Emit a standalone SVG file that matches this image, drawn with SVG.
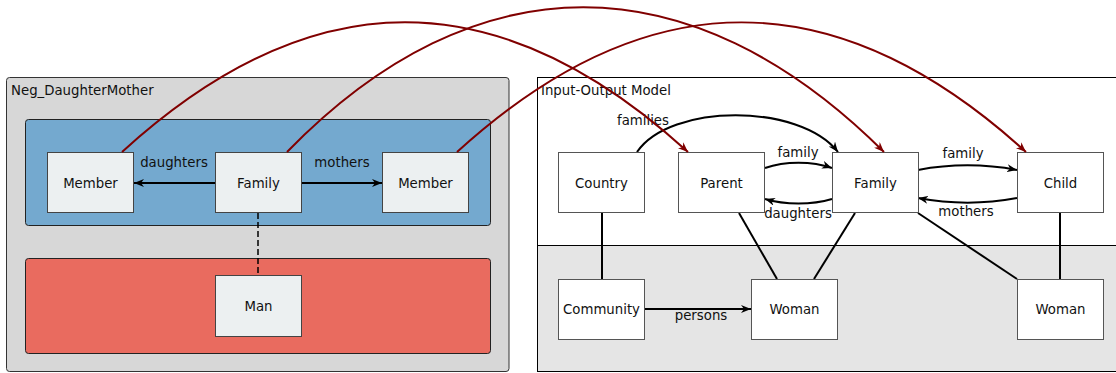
<svg xmlns="http://www.w3.org/2000/svg" width="1116" height="373" viewBox="0 0 1116 373">
<defs>
<style>
text{font-family:"DejaVu Sans","Liberation Sans",sans-serif;font-size:13.3px;fill:#111;}
.c{text-anchor:middle;}
.lnode{fill:#ecf0f1;stroke:#444;stroke-width:1;}
.rnode{fill:#fff;stroke:#555;stroke-width:1;}
.e{fill:none;stroke:#000;stroke-width:2;}
.r{fill:none;stroke:#800000;stroke-width:2;}
</style>
<marker id="ab" viewBox="0 0 10 8" refX="10" refY="4" markerWidth="10" markerHeight="8" markerUnits="userSpaceOnUse" orient="auto"><path d="M0,0 L10,4 L0,8 L3,4 z" fill="#000"/></marker>
<marker id="ar" viewBox="0 0 10 8" refX="10" refY="4" markerWidth="10" markerHeight="8" markerUnits="userSpaceOnUse" orient="auto"><path d="M0,0 L10,4 L0,8 L3,4 z" fill="#800000"/></marker>
</defs>
<rect width="1116" height="373" fill="#fff"/>
<g id="neg">
<rect x="6.5" y="77.5" width="502.5" height="294" rx="3" fill="#d7d7d7" stroke="#333"/>
<text x="11" y="95">Neg_DaughterMother</text>
<rect x="25.5" y="119.5" width="465" height="106" rx="3" fill="#74a9cf" stroke="#222"/>
<rect x="25.5" y="258.5" width="465" height="95" rx="3" fill="#e96b5f" stroke="#222"/>
</g>
<g id="io">
<rect x="537.5" y="77.5" width="590" height="294" fill="#fff" stroke="#000"/>
<rect x="537.5" y="245.5" width="590" height="126" fill="#e5e5e5" stroke="#000"/>
<text x="541" y="95">Input-Output Model</text>
</g>
<g id="connectors">
<path class="e" d="M215,183 L134,183" marker-end="url(#ab)"/>
<path class="e" d="M301,183 L382,183" marker-end="url(#ab)"/>
<path d="M258,213 L258,275" fill="none" stroke="#000" stroke-width="1.5" stroke-dasharray="6,3"/>
<path class="e" d="M637,152 C670,103 800,103 838,152" marker-end="url(#ab)"/>
<path class="e" d="M765,168 C785,161 812,161 832,168" marker-end="url(#ab)"/>
<path class="e" d="M832,199 C812,205 785,205 765,199" marker-end="url(#ab)"/>
<path class="e" d="M918,170 C950,164 985,164 1017,170" marker-end="url(#ab)"/>
<path class="e" d="M1017,198 C985,204 950,204 918,198" marker-end="url(#ab)"/>
<path class="e" d="M645,309 L751,309" marker-end="url(#ab)"/>
<path class="e" d="M602,213 L602,279"/>
<path class="e" d="M739,213 L777,279"/>
<path class="e" d="M855,213 L814,279"/>
<path class="e" d="M918,213 L1017,279"/>
<path class="e" d="M1060,213 L1060,279"/>
<text class="c" x="174" y="167">daughters</text>
<text class="c" x="342" y="167">mothers</text>
<text class="c" x="643" y="125">families</text>
<text class="c" x="798" y="157">family</text>
<text class="c" x="798" y="218">daughters</text>
<text class="c" x="963" y="158">family</text>
<text class="c" x="966" y="216">mothers</text>
<text class="c" x="701" y="320">persons</text>
</g>
<g id="n_member1"><rect class="lnode" x="47.5" y="152.5" width="86" height="60"/><text class="c" x="90.5" y="187.5">Member</text></g>
<g id="n_family_l"><rect class="lnode" x="215.5" y="152.5" width="86" height="60"/><text class="c" x="258.5" y="187.5">Family</text></g>
<g id="n_member2"><rect class="lnode" x="382.5" y="152.5" width="86" height="60"/><text class="c" x="425.5" y="187.5">Member</text></g>
<g id="n_man"><rect class="lnode" x="215.5" y="275.5" width="86" height="61"/><text class="c" x="258.5" y="310.5">Man</text></g>
<g id="n_country"><rect class="rnode" x="558.5" y="152.5" width="86" height="60"/><text class="c" x="601.5" y="187.5">Country</text></g>
<g id="n_parent"><rect class="rnode" x="678.5" y="152.5" width="86" height="60"/><text class="c" x="721.5" y="187.5">Parent</text></g>
<g id="n_family_r"><rect class="rnode" x="832.5" y="152.5" width="86" height="60"/><text class="c" x="875.5" y="187.5">Family</text></g>
<g id="n_child"><rect class="rnode" x="1017.5" y="152.5" width="86" height="60"/><text class="c" x="1060.5" y="187.5">Child</text></g>
<g id="n_community"><rect class="rnode" x="558.5" y="279.5" width="86" height="60"/><text class="c" x="601.5" y="314">Community</text></g>
<g id="n_woman1"><rect class="rnode" x="751.5" y="279.5" width="86" height="60"/><text class="c" x="794.5" y="314">Woman</text></g>
<g id="n_woman2"><rect class="rnode" x="1017.5" y="279.5" width="86" height="60"/><text class="c" x="1060.5" y="314">Woman</text></g>
<g id="mapping">
<path class="r" d="M122,152 C312,-21 498,-21 688,152" marker-end="url(#ar)"/>
<path class="r" d="M287,152 C475,-41 690,-41 884,152" marker-end="url(#ar)"/>
<path class="r" d="M457,152 C647,-21 836,-21 1026,152" marker-end="url(#ar)"/>
</g>
</svg>
